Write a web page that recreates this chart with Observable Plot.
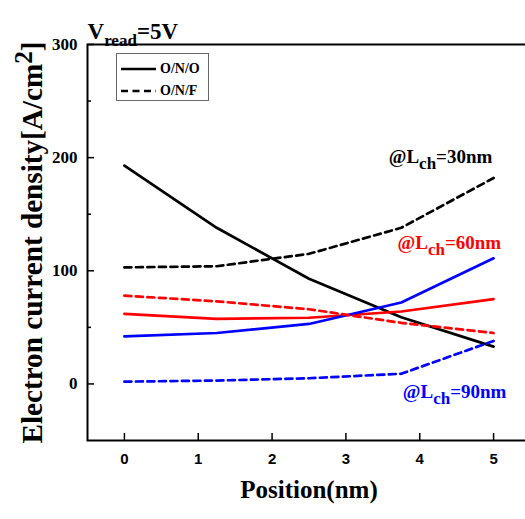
<!DOCTYPE html>
<html>
<head>
<meta charset="utf-8">
<script src="https://cdn.jsdelivr.net/npm/d3@7"></script>
<script src="https://cdn.jsdelivr.net/npm/@observablehq/plot@0.6"></script>
<style>
  html, body { margin: 0; padding: 0; background: white; overflow: hidden; }
  #wrap { position: relative; width: 525px; height: 519px; }
  #legend { position: absolute; left: 116px; top: 53px; width: 93px; height: 48px; border: 1px solid #666; background: white;
    font: bold 14px "Liberation Serif", "Times New Roman", serif; box-sizing: border-box; }
  #legend .row { position: absolute; left: 3px; height: 20px; display: flex; align-items: center; }
  #legend svg { display: block; margin-right: 4px; }
</style>
</head>
<body>
<div id="wrap"></div>
<script>
// ---- data ----
const positions = [0, 1.25, 2.5, 3.75, 5];
const channelLengths = ["30", "60", "90"];
const seriesColors = ["#000000", "#ff0000", "#0000ff"];
// O/N/O (solid)
const onoL30 = [193, 138, 93, 59, 33];
const onoL60 = [62, 57.5, 58.5, 64, 75];
const onoL90 = [42, 45, 53, 72, 111];
// O/N/F (dashed)
const onfL30 = [103, 104, 115, 138, 182];
const onfL60 = [78, 73, 66, 54, 45];
const onfL90 = [2, 3, 5, 9, 38];
const xTicks = [0, 1, 2, 3, 4, 5];
const yTicks = [0, 100, 200, 300];
const yMinorTicks = [50, 150, 250];
// annotation label anchors (data coords)
const labelX = [3.58, 3.70, 3.77];
const labelY = [201, 125, -7];

const serif = '"Liberation Serif", "Times New Roman", serif';
const sans = '"Liberation Sans", Arial, sans-serif';

function rows(values, lch, color) {
  return values.map((v, i) => ({x: positions[i], y: v, lch, color}));
}
const solidRows = [
  ...rows(onoL30, "30", seriesColors[0]),
  ...rows(onoL60, "60", seriesColors[1]),
  ...rows(onoL90, "90", seriesColors[2])
];
const dashedRows = [
  ...rows(onfL30, "30", seriesColors[0]),
  ...rows(onfL60, "60", seriesColors[1]),
  ...rows(onfL90, "90", seriesColors[2])
];
const labels = channelLengths.map((l, i) => ({x: labelX[i], y: labelY[i], lch: l, color: seriesColors[i]}));

const plot = Plot.plot({
  width: 525,
  height: 519,
  marginLeft: 87,
  marginRight: -5,
  marginTop: 44,
  marginBottom: 79,
  style: {background: "white", overflow: "hidden"},
  x: {domain: [-0.5, 5.5]},
  y: {domain: [-50, 300]},
  marks: [
    Plot.frame({stroke: "#000", strokeWidth: 2}),
    Plot.axisX({ticks: xTicks, tickSize: -7, tickPadding: 20, tickFormat: d => String(d), label: null,
      fontSize: 15, fontWeight: "bold", fontFamily: sans, stroke: "#000", strokeWidth: 1.5}),
    Plot.axisY({ticks: yTicks, tickSize: -7, tickPadding: 17, tickFormat: d => String(d), label: null,
      fontSize: 17, fontWeight: "bold", fontFamily: serif, stroke: "#000", strokeWidth: 1.5}),
    Plot.axisY({ticks: yMinorTicks, tickSize: -4, text: null, label: null, stroke: "#000", strokeWidth: 1.5}),
    Plot.line(solidRows, {x: "x", y: "y", z: "lch", stroke: "color", strokeWidth: 2.7}),
    Plot.line(dashedRows, {x: "x", y: "y", z: "lch", stroke: "color", strokeWidth: 2.7, strokeDasharray: "7,4.5"}),
    Plot.text(labels, {x: "x", y: "y", text: d => "@Lch=" + d.lch + "nm", fill: "color", textAnchor: "start",
      fontSize: 19, fontWeight: "bold", fontFamily: serif}),
    Plot.text(["Vread=5V"], {frameAnchor: "top-left", dy: -22, textAnchor: "start", fontSize: 23, fontWeight: "bold",
      fontFamily: serif, fill: "#000"}),
    Plot.text(["Electron current density[A/cm2]"], {frameAnchor: "left", dx: -55, rotate: -90, textAnchor: "middle",
      fontSize: 29, fontWeight: "bold", fontFamily: serif, fill: "#000"}),
    Plot.text(["Position(nm)"], {frameAnchor: "bottom", dy: 57, textAnchor: "middle", fontSize: 25, fontWeight: "bold",
      fontFamily: serif, fill: "#000"})
  ]
});

function rich(textEl, parts) {
  const t = d3.select(textEl);
  t.text(null);
  let shift = 0;
  parts.forEach(p => {
    const ts = t.append("tspan").text(p.t);
    const target = p.shift || 0;
    if (target !== shift) { ts.attr("dy", target - shift); shift = target; }
    if (p.size) ts.attr("font-size", p.size);
  });
}

const svg = d3.select(plot);
svg.selectAll("text").each(function() {
  const s = this.textContent;
  if (s.startsWith("@Lch=")) {
    const rest = s.slice(4);
    rich(this, [{t: "@L"}, {t: "ch", shift: 6, size: 17}, {t: rest, shift: 0}]);
  } else if (s === "Vread=5V") {
    rich(this, [{t: "V"}, {t: "read", shift: 7, size: 17}, {t: "=5V", shift: 0}]);
  } else if (s === "Electron current density[A/cm2]") {
    rich(this, [{t: "Electron current density[A/cm"}, {t: "2", shift: -10, size: 25}, {t: "]", shift: 0}]);
    d3.select(this).attr("textLength", 402).attr("lengthAdjust", "spacingAndGlyphs");
  }
});

document.getElementById("wrap").appendChild(plot);

// legend (HTML overlay)
const legendItems = [{name: "O/N/O", dash: null}, {name: "O/N/F", dash: "7,4.5"}];
const legend = d3.select("#wrap").append("div").attr("id", "legend");
legendItems.forEach((it, i) => {
  const row = legend.append("div").attr("class", "row").style("top", (5 + i * 22) + "px");
  const s = row.append("svg").attr("width", 36).attr("height", 10);
  s.append("line").attr("x1", 1).attr("x2", 36).attr("y1", 5).attr("y2", 5)
    .attr("stroke", "#000").attr("stroke-width", 2.7).attr("stroke-dasharray", it.dash);
  row.append("span").text(it.name);
});
</script>
</body>
</html>
